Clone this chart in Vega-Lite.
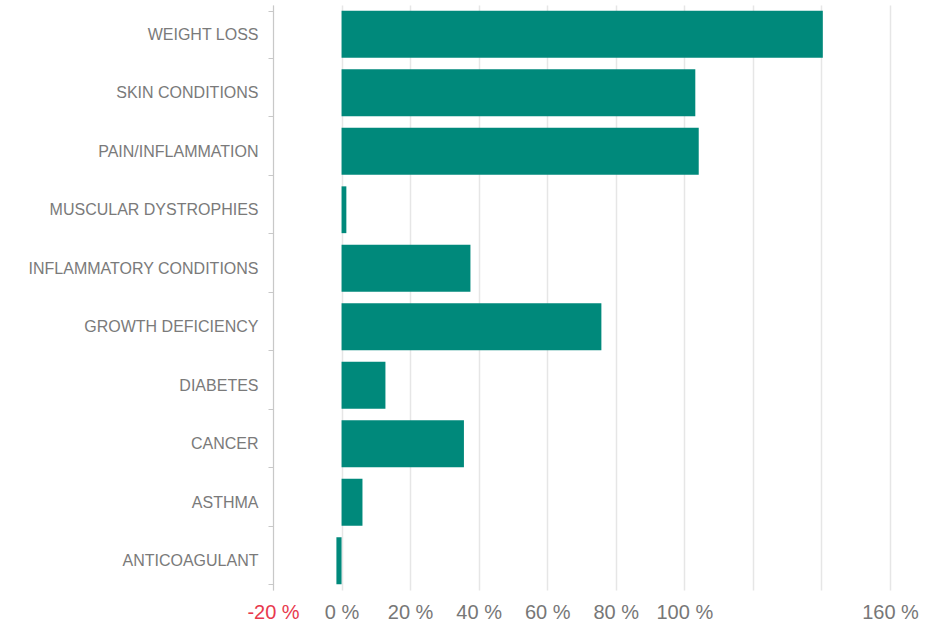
{
  "$schema": "https://vega.github.io/schema/vega-lite/v6.json",
  "autosize": {"type": "none"},
  "width": 617,
  "height": 585,
  "padding": {"left": 273, "top": 5, "right": 44, "bottom": 41},
  "background": "white",
  "config": {"view": {"stroke": null}},
  "data": {
    "values": [
      {"category": "WEIGHT LOSS", "value": 140.4},
      {"category": "SKIN CONDITIONS", "value": 103.2},
      {"category": "PAIN/INFLAMMATION", "value": 104.2},
      {"category": "MUSCULAR DYSTROPHIES", "value": 1.4},
      {"category": "INFLAMMATORY CONDITIONS", "value": 37.6},
      {"category": "GROWTH DEFICIENCY", "value": 75.8},
      {"category": "DIABETES", "value": 12.8},
      {"category": "CANCER", "value": 35.7},
      {"category": "ASTHMA", "value": 6.1},
      {"category": "ANTICOAGULANT", "value": -1.5}
    ]
  },
  "mark": {"type": "bar", "color": "#00897B"},
  "encoding": {
    "y": {
      "field": "category",
      "type": "nominal",
      "sort": null,
      "title": null,
      "scale": {"paddingInner": 0.2, "paddingOuter": 0.1},
      "axis": {
        "domain": true,
        "domainColor": "#c8c8c8",
        "domainWidth": 1,
        "ticks": true,
        "tickBand": "extent",
        "tickSize": 5,
        "tickColor": "#c8c8c8",
        "grid": false,
        "labelFont": "Liberation Sans",
        "labelFontSize": 16,
        "labelColor": "#7a7a7a",
        "labelPadding": 10,
        "labelLimit": 400
      }
    },
    "x": {
      "field": "value",
      "type": "quantitative",
      "title": null,
      "scale": {"domain": [-20, 160], "nice": false, "zero": false},
      "axis": {
        "values": [-20, 0, 20, 40, 60, 80, 100, 120, 140, 160],
        "domain": false,
        "ticks": false,
        "grid": true,
        "gridColor": "#e6e6e6",
        "gridWidth": 1.5,
        "labelFont": "Liberation Sans",
        "labelFontSize": 20,
        "labelColor": {"expr": "datum.value < 0 ? '#e8394d' : '#777777'"},
        "labelExpr": "datum.value == 120 || datum.value == 140 ? '' : datum.value + ' %'",
        "labelPadding": 12,
        "labelOverlap": false,
        "labelBound": false,
        "labelFlush": false,
        "labelLimit": 400
      }
    }
  }
}
